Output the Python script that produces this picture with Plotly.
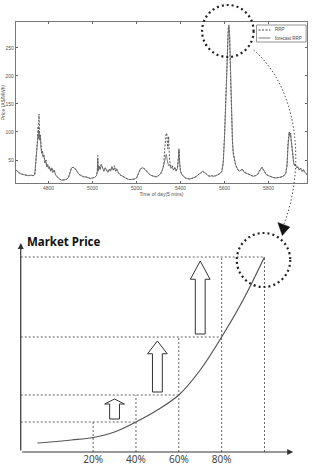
import plotly.graph_objects as go

W, H = 316, 468

# ---------------- top chart data (RRP time series) ----------------
time = [4652, 4660, 4668, 4676, 4684, 4692, 4700, 4710, 4720, 4730,
        4738, 4742, 4746, 4750, 4753, 4755, 4757, 4760, 4763, 4766,
        4770, 4773, 4776, 4780, 4784, 4788, 4792, 4796, 4800, 4805,
        4810, 4815, 4820, 4826, 4832, 4840, 4850, 4860, 4870, 4880,
        4890, 4898, 4905, 4912, 4918, 4925, 4932, 4940, 4950, 4960,
        4970, 4980, 4990, 5000, 5010, 5018, 5022, 5024, 5026, 5030,
        5035, 5040, 5046, 5052, 5058, 5064, 5070, 5076, 5082, 5088,
        5094, 5100, 5105, 5110, 5116, 5124, 5132, 5140, 5150, 5160,
        5170, 5180, 5190, 5200, 5210, 5218, 5226, 5234, 5242, 5250,
        5260, 5270, 5280, 5290, 5300, 5310, 5318, 5324, 5328, 5332,
        5335, 5338, 5342, 5346, 5350, 5356, 5362, 5368, 5374, 5380,
        5386, 5390, 5393, 5396, 5400, 5406, 5414, 5422, 5430, 5440,
        5450, 5460, 5470, 5480, 5490, 5500, 5510, 5518, 5526, 5534,
        5542, 5550, 5560, 5570, 5580, 5588, 5594, 5600, 5605, 5610,
        5614, 5617, 5620, 5623, 5626, 5629, 5632, 5636, 5640, 5645,
        5650, 5656, 5662, 5670, 5680, 5690, 5700, 5710, 5720, 5730,
        5740, 5750, 5758, 5764, 5770, 5776, 5782, 5790, 5800, 5810,
        5820, 5830, 5840, 5850, 5860, 5870, 5878, 5884, 5888, 5891,
        5894, 5897, 5900, 5903, 5906, 5910, 5914, 5918, 5922, 5928,
        5934, 5940, 5946, 5952, 5958, 5964, 5970, 5975]

forecast_rrp = [32, 29, 27, 25, 24, 23, 22, 22, 23, 22,
                24, 40, 62, 80, 95, 88, 100, 85, 92, 70,
                62, 66, 55, 58, 45, 50, 38, 42, 35, 38,
                30, 36, 28, 32, 24, 20, 16, 14, 14, 15,
                18, 30, 36, 37, 35, 33, 28, 24, 22, 20,
                20, 18, 17, 18, 19, 22, 28, 52, 30, 38,
                33, 42, 34, 30, 36, 32, 28, 34, 30, 38,
                32, 36, 30, 33, 28, 24, 22, 20, 18, 16,
                15, 15, 16, 18, 26, 34, 36, 35, 32, 28,
                24, 22, 21, 20, 22, 26, 32, 40, 48, 55,
                60, 52, 45, 40, 42, 35, 38, 32, 36, 30,
                35, 50, 68, 45, 30, 24, 20, 18, 17, 16,
                17, 18, 20, 24, 26, 30, 28, 25, 22, 21,
                22, 21, 22, 24, 26, 30, 45, 90, 150, 220,
                260, 280, 291, 275, 230, 170, 120, 85, 62, 50,
                42, 36, 32, 30, 34, 28, 26, 24, 22, 21,
                22, 24, 30, 35, 37, 33, 28, 24, 22, 20,
                19, 18, 18, 19, 20, 22, 26, 40, 70, 95,
                100, 92, 98, 85, 70, 52, 45, 40, 42, 36,
                38, 32, 35, 30, 33, 28, 25, 24]

rrp = [32, 29, 27, 25, 24, 23, 22, 22, 23, 22,
       24, 42, 65, 85, 110, 95, 132, 90, 96, 72,
       62, 66, 55, 58, 45, 50, 38, 42, 35, 38,
       30, 36, 28, 32, 24, 20, 16, 14, 14, 15,
       18, 30, 36, 37, 35, 33, 28, 24, 22, 20,
       20, 18, 17, 18, 19, 22, 30, 58, 32, 40,
       33, 42, 34, 30, 36, 32, 28, 34, 30, 38,
       32, 40, 30, 35, 28, 24, 22, 20, 18, 16,
       15, 15, 16, 18, 26, 34, 36, 35, 32, 28,
       24, 22, 21, 20, 22, 26, 33, 42, 70, 95,
       98, 96, 70, 92, 50, 38, 40, 33, 37, 31,
       35, 52, 70, 46, 30, 24, 20, 18, 17, 16,
       17, 18, 20, 24, 26, 30, 28, 25, 22, 21,
       22, 21, 22, 24, 26, 30, 46, 95, 160, 230,
       265, 288, 286, 270, 220, 165, 115, 80, 60, 48,
       42, 36, 32, 30, 34, 28, 26, 24, 22, 21,
       22, 24, 30, 35, 37, 33, 28, 24, 22, 20,
       19, 18, 18, 19, 20, 22, 26, 42, 80, 98,
       100, 95, 98, 85, 70, 52, 45, 40, 42, 36,
       38, 32, 35, 30, 33, 28, 25, 24]

x_ticks = [4800, 5000, 5200, 5400, 5600, 5800]
y_ticks = [50, 100, 150, 200, 250]

# ---------------- bottom chart data (price vs capacity) ----------------
capacity = [-6, 0, 10, 20, 30, 40, 50, 60, 70, 80, 90, 100]
price = [9, 10, 12, 14.5, 20, 30, 42, 57, 82, 115, 152, 195]
cap_ticks = [20, 40, 60, 80, 100]
cap_labels = ["20%", "40%", "60%", "80%"]

# ---------------- layout geometry ----------------
TOP_X = [13 / W, 307 / W]
TOP_Y = [1 - 183 / H, 1 - 22 / H]
TOP_XR = [4652, 5975]
TOP_YR = [9, 296]
BOT_X = [0, 1]
BOT_Y = [1 - 452 / H, 1 - 225 / H]
BOT_XR = [-22.08, 124.05]
BOT_YR = [0, 227]
X_ORIGIN = -13.8
X_END = 113.4
Y_END = 209


def px(x):
    return x / W


def py(y):
    return 1 - y / H


fig = go.Figure()

fig.add_trace(go.Scatter(x=time, y=rrp, mode="lines", name="RRP",
                         line=dict(color="#555", width=1, dash="2px,1.5px"),
                         xaxis="x", yaxis="y", showlegend=False))
fig.add_trace(go.Scatter(x=time, y=forecast_rrp, mode="lines", name="forecast RRP",
                         line=dict(color="#666", width=0.8),
                         xaxis="x", yaxis="y", showlegend=False))

# curve
fig.add_trace(go.Scatter(x=capacity, y=price, mode="lines", line=dict(color="#555", width=1.2, shape="spline"),
                         xaxis="x2", yaxis="y2", showlegend=False, hoverinfo="skip"))

price_at = dict(zip(capacity, price))
shapes = []
dot_line = dict(color="#666", width=1, dash="2px,2px")
# horizontal guides
for c in cap_ticks[1:]:
    shapes.append(dict(type="line", xref="x2", yref="y2", x0=X_ORIGIN, x1=c,
                       y0=price_at[c], y1=price_at[c], line=dot_line))
# vertical guides
for i, c in enumerate(cap_ticks):
    top = price_at[cap_ticks[min(i + 1, len(cap_ticks) - 1)]]
    shapes.append(dict(type="line", xref="x2", yref="y2", x0=c, x1=c,
                       y0=0, y1=top, line=dot_line))

# hollow block arrows between levels
for i in range(1, len(cap_ticks) - 1):
    lo = price_at[cap_ticks[i]]
    hi = price_at[cap_ticks[i + 1]]
    cx = (cap_ticks[i - 1] + cap_ticks[i]) / 2
    b = lo + 3
    t = hi - 4
    hb = t - 0.25 * (t - b)
    sw, hw = 2.3, 4.6
    xs = [cx - sw, cx + sw, cx + sw, cx + hw, cx, cx - hw, cx - sw, cx - sw]
    ys = [b, b, hb, hb, t, hb, hb, b]
    fig.add_trace(go.Scatter(x=xs, y=ys, mode="lines", fill="toself", fillcolor="white",
                             line=dict(color="#333", width=1), xaxis="x2", yaxis="y2",
                             showlegend=False, hoverinfo="skip"))

# dotted circles
circ = dict(color="#222", width=2.2, dash="2px,3px")
shapes.append(dict(type="circle", xref="paper", yref="paper",
                   x0=px(201), x1=px(253), y0=py(57), y1=py(5), line=circ))
shapes.append(dict(type="circle", xref="paper", yref="paper",
                   x0=px(236), x1=px(290), y0=py(287), y1=py(233), line=circ))
# connector
shapes.append(dict(type="path", xref="paper", yref="paper",
                   path=f"M {px(253)},{py(50)} C {px(300)},{py(90)} {px(305)},{py(170)} {px(283)},{py(226)}",
                   line=dict(color="#555", width=1, dash="1.5px,2px")))
shapes.append(dict(type="path", xref="paper", yref="paper",
                   path=f"M {px(277.5)},{py(222.5)} L {px(289.5)},{py(227)} L {px(282)},{py(235.5)} Z",
                   fillcolor="#111", line=dict(color="#111", width=0.5)))

# manual legend for the top chart
shapes.append(dict(type="rect", xref="paper", yref="paper", x0=px(256), x1=px(306),
                   y0=py(42), y1=py(25), line=dict(color="#777", width=0.8), fillcolor="white"))
shapes.append(dict(type="line", xref="paper", yref="paper", x0=px(258), x1=px(270),
                   y0=py(30), y1=py(30), line=dict(color="#444", width=1, dash="2px,1.5px")))
shapes.append(dict(type="line", xref="paper", yref="paper", x0=px(258), x1=px(270),
                   y0=py(38), y1=py(38), line=dict(color="#555", width=0.8)))

annotations = [
    dict(x=px(273), y=py(30), xref="paper", yref="paper", text="RRP", showarrow=False,
         xanchor="left", yanchor="middle", font=dict(size=4.5, color="#444")),
    dict(x=px(273), y=py(38), xref="paper", yref="paper", text="forecast RRP", showarrow=False,
         xanchor="left", yanchor="middle", font=dict(size=4.5, color="#444")),
    # bottom chart axes arrows
    dict(x=X_END, y=0, ax=X_ORIGIN, ay=0, xref="x2", yref="y2", axref="x2", ayref="y2",
         text="", showarrow=True, arrowhead=2, arrowsize=1, arrowwidth=1.2, arrowcolor="#333"),
    dict(x=X_ORIGIN, y=Y_END, ax=X_ORIGIN, ay=0, xref="x2", yref="y2", axref="x2", ayref="y2",
         text="", showarrow=True, arrowhead=2, arrowsize=1, arrowwidth=1.2, arrowcolor="#333"),
    dict(x=X_ORIGIN + 2.2, y=211, xref="x2", yref="y2", text="<b>Market Price</b>", showarrow=False,
         xanchor="left", yanchor="middle", font=dict(size=11.5, color="#111", family="Noto Sans")),
    dict(x=98.2, y=-9, xref="x2", yref="y2", text="<b>Capacity</b>", showarrow=False,
         xanchor="left", yanchor="top", font=dict(size=11.5, color="#111", family="Noto Sans")),
]

fig.update_layout(
    width=W, height=H, margin=dict(l=0, r=0, t=0, b=0),
    paper_bgcolor="white", plot_bgcolor="white",
    font=dict(family="Liberation Sans", color="#555"),
    xaxis=dict(domain=TOP_X, range=TOP_XR, anchor="y", tickvals=x_ticks, ticks="inside", ticklen=2,
               tickcolor="#666", showline=True, linecolor="#777", linewidth=1, mirror="ticks",
               showgrid=False, zeroline=False, tickfont=dict(size=5, color="#555"),
               title=dict(text="Time of day(5 mins)", font=dict(size=5, color="#555"), standoff=2)),
    yaxis=dict(domain=TOP_Y, range=TOP_YR, anchor="x", tickvals=y_ticks, ticks="inside", ticklen=2,
               tickcolor="#666", showline=True, linecolor="#777", linewidth=1, mirror="ticks",
               showgrid=False, zeroline=False, tickfont=dict(size=5, color="#555"),
               title=dict(text="Price (A$/MWh)", font=dict(size=5, color="#555"), standoff=2)),
    xaxis2=dict(domain=BOT_X, range=BOT_XR, anchor="y2", tickvals=cap_ticks[:4], ticktext=cap_labels,
                ticks="", showline=False, showgrid=False, zeroline=False,
                tickfont=dict(size=10, color="#444", family="Noto Sans")),
    yaxis2=dict(domain=BOT_Y, range=BOT_YR, anchor="x2", visible=False),
    shapes=shapes, annotations=annotations,
)

fig.write_html("out.html")
